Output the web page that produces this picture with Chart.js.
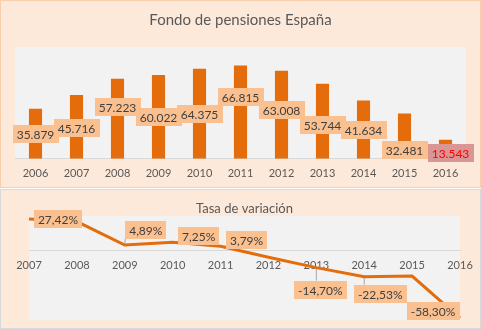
<!DOCTYPE html>
<html lang="es">
<head>
    <meta charset="UTF-8">
    <title>Fondo de pensiones España</title>
    <script src="https://cdn.jsdelivr.net/npm/chart.js"></script>
    <style>
        body {
            margin: 0;
            background: #ffffff;
            width: 481px;
            height: 329px;
            position: relative;
            overflow: hidden;
        }
        .panel {
            position: absolute;
            left: 0;
            width: 481px;
            box-sizing: border-box;
            background: #fde9d9;
        }
        #panelTop {
            top: 0;
            height: 188px;
            border: 1px solid #f9cfab;
        }
        #panelBottom {
            top: 189px;
            height: 140px;
            border: 1px solid #d9d9d9;
        }
        canvas {
            position: absolute;
            left: 0;
        }
    </style>
</head>
<body>
    <div class="panel" id="panelTop"></div>
    <div class="panel" id="panelBottom"></div>
    <canvas id="fondoChart" width="481" height="188" style="top:0"></canvas>
    <canvas id="tasaChart" width="481" height="140" style="top:189px"></canvas>

    <script>
        // Fondo de reserva, millones de euros
        const years = ['2006', '2007', '2008', '2009', '2010', '2011', '2012', '2013', '2014', '2015', '2016'];
        const fondo = [35879, 45716, 57223, 60022, 64375, 66815, 63008, 53744, 41634, 32481, 13543];

        // Tasa de variación anual (%)
        const tasaYears = ['2007', '2008', '2009', '2010', '2011', '2012', '2013', '2014', '2015', '2016'];
        const tasa = [27.42, 25.17, 4.89, 7.25, 3.79, -5.70, -14.70, -22.53, -21.98, -58.30];
        const tasaShown = [true, false, true, true, true, false, true, true, false, true];

        // where each data label sits, relative to its mark (px)
        const barLabelShift = [[0, 0], [0, 1], [0, -12], [0, 0], [0, 0], [0, -15], [0, -5], [0, 4], [0, 0], [0, 14], [5, 4]];
        const tasaLabelShift = [[29, 0], null, [21, -15], [26, -6], [26, -6], null, [4, 22], [16, 17], null, [-27, -7]];

        const ORANGE = '#e46c0a';
        const FONT = 'Lato, "Open Sans", sans-serif';

        function miles(v) {
            return String(v).replace(/\B(?=(\d{3})+(?!\d))/g, '.');
        }
        function pct(v) {
            return v.toFixed(2).replace('.', ',') + '%';
        }

        const plotBackground = {
            id: 'plotBackground',
            beforeDraw(chart) {
                const a = chart.chartArea;
                const ctx = chart.ctx;
                ctx.save();
                ctx.fillStyle = '#f2f2f2';
                ctx.fillRect(a.left, a.top, a.right - a.left, a.bottom - a.top);
                ctx.restore();
            }
        };

        function boxOf(ctx, text, cx, cy) {
            ctx.font = '12px ' + FONT;
            const w = ctx.measureText(text).width + 8;
            return { l: cx - w / 2, r: cx + w / 2, t: cy - 9, b: cy + 9 };
        }

        function drawBox(ctx, text, cx, cy, bg, color) {
            const b = boxOf(ctx, text, cx, cy);
            ctx.fillStyle = bg;
            ctx.fillRect(Math.round(b.l), Math.round(b.t), Math.round(b.r - b.l), 18);
            ctx.fillStyle = color;
            ctx.textAlign = 'center';
            ctx.textBaseline = 'middle';
            ctx.fillText(text, cx, cy + 1);
        }

        const barLabels = {
            id: 'barLabels',
            afterDatasetsDraw(chart) {
                const ctx = chart.ctx;
                const bars = chart.getDatasetMeta(0).data;
                ctx.save();
                bars.forEach((bar, i) => {
                    const s = barLabelShift[i];
                    const mid = (bar.y + bar.base) / 2;
                    const last = i === bars.length - 1;
                    drawBox(ctx, miles(fondo[i]), bar.x + s[0], mid + s[1],
                        last ? '#da9694' : '#fac090', last ? '#ff0000' : '#404040');
                });
                ctx.restore();
            }
        };

        const lineLabels = {
            id: 'lineLabels',
            beforeDatasetsDraw(chart) {
                // leader lines run under the series line
                const ctx = chart.ctx;
                const pts = chart.getDatasetMeta(0).data;
                ctx.save();
                ctx.strokeStyle = '#a6a6a6';
                ctx.lineWidth = 1;
                pts.forEach((p, i) => {
                    if (!tasaShown[i]) return;
                    const s = tasaLabelShift[i];
                    const b = boxOf(ctx, pct(tasa[i]), p.x + s[0], p.y + s[1]);
                    const ex = Math.min(Math.max(p.x, b.l), b.r);
                    const ey = Math.min(Math.max(p.y, b.t), b.b);
                    if (Math.hypot(ex - p.x, ey - p.y) < 5) return;
                    ctx.beginPath();
                    ctx.moveTo(p.x, p.y);
                    ctx.lineTo(ex, ey);
                    ctx.stroke();
                });
                ctx.restore();
            },
            afterDatasetsDraw(chart) {
                const ctx = chart.ctx;
                const pts = chart.getDatasetMeta(0).data;
                ctx.save();
                pts.forEach((p, i) => {
                    if (!tasaShown[i]) return;
                    const s = tasaLabelShift[i];
                    drawBox(ctx, pct(tasa[i]), p.x + s[0], p.y + s[1], '#fac090', '#404040');
                });
                ctx.restore();
            }
        };

        Chart.defaults.font.family = FONT;
        Chart.defaults.color = '#595959';

        new Chart(document.getElementById('fondoChart'), {
            type: 'bar',
            data: {
                labels: years,
                datasets: [{
                    data: fondo,
                    backgroundColor: ORANGE,
                    categoryPercentage: 1,
                    barPercentage: 0.32
                }]
            },
            options: {
                responsive: false,
                animation: false,
                layout: { padding: { left: 15, right: 15, bottom: 0 } },
                plugins: {
                    legend: { display: false },
                    tooltip: { enabled: false },
                    title: {
                        display: true,
                        text: 'Fondo de pensiones España',
                        color: '#595959',
                        font: { size: 15, weight: 'normal', lineHeight: 1.2 },
                        padding: { top: 11, bottom: 18 }
                    }
                },
                scales: {
                    x: {
                        grid: { display: false, drawTicks: false },
                        border: { display: true, color: '#d9d9d9' },
                        ticks: { padding: 8, font: { size: 11 }, color: '#595959', maxRotation: 0 }
                    },
                    y: { display: false, min: 0, max: 80000 }
                }
            },
            plugins: [plotBackground, barLabels]
        });

        new Chart(document.getElementById('tasaChart'), {
            type: 'line',
            data: {
                labels: tasaYears,
                datasets: [{
                    data: tasa,
                    borderColor: ORANGE,
                    borderWidth: 3,
                    pointRadius: 0,
                    tension: 0
                }]
            },
            options: {
                responsive: false,
                animation: false,
                layout: { padding: { left: 29, right: 21, bottom: 9 } },
                plugins: {
                    legend: { display: false },
                    tooltip: { enabled: false },
                    title: {
                        display: true,
                        text: 'Tasa de variación',
                        color: '#595959',
                        font: { size: 13, weight: 'normal', lineHeight: 1 },
                        padding: { top: 13, bottom: 1 }
                    }
                },
                scales: {
                    x: {
                        position: { y: 0 },
                        offset: false,
                        grid: { display: false, drawTicks: false },
                        border: { display: true, color: '#d9d9d9' },
                        ticks: { padding: 8, font: { size: 11 }, color: '#595959', maxRotation: 0 }
                    },
                    y: { display: false, min: -60, max: 30 }
                }
            },
            plugins: [plotBackground, lineLabels]
        });
    </script>
</body>
</html>
